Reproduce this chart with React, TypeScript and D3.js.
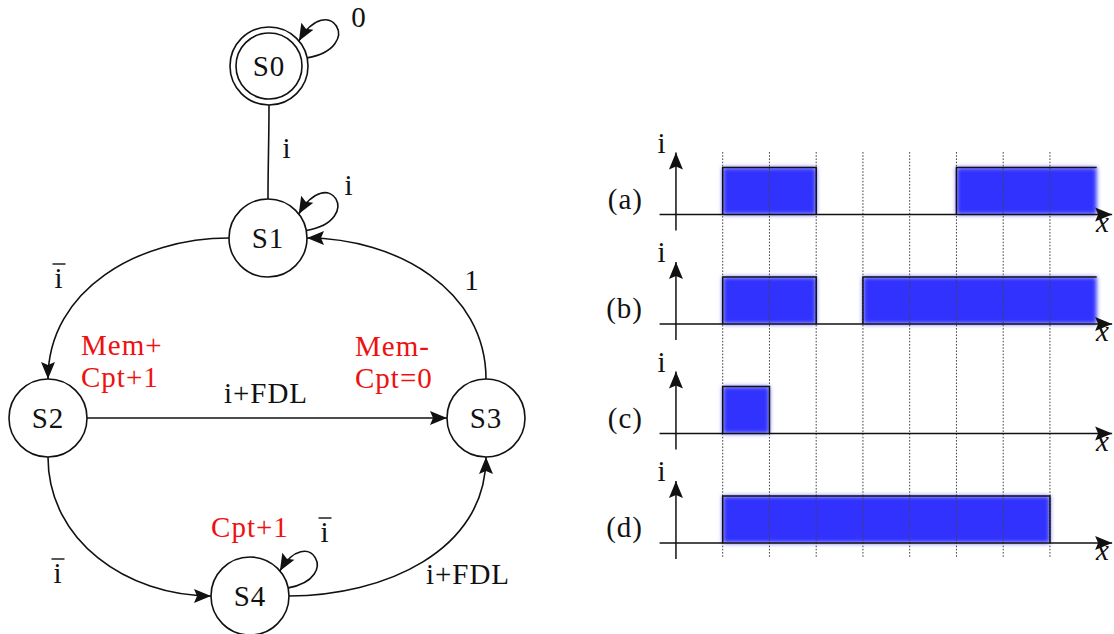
import React from "react";
import * as d3 from "d3";

// ---- state machine data ----
const stateNames = ["S0", "S1", "S2", "S3", "S4"];
const acceptingStates = ["S0"];

// transitions: from, to, condition text, whether the condition is negated (overline)
const transFrom = ["S0", "S1", "S3", "S2", "S2", "S4"];
const transTo = ["S1", "S2", "S1", "S3", "S4", "S3"];
const transLabel = ["i", "i", "1", "i+FDL", "i", "i+FDL"];
const transNegated = [false, true, false, false, true, false];

// self loops
const loopState = ["S0", "S1", "S4"];
const loopLabel = ["0", "i", "i"];
const loopNegated = [false, false, true];

// actions (red)
const actionState = ["S2", "S3", "S4"];
const actionLines = [["Mem+", "Cpt+1"], ["Mem-", "Cpt=0"], ["Cpt+1"]];

// ---- timing diagram data ----
const signalNames = ["(a)", "(b)", "(c)", "(d)"];
const highStart = [[0, 5], [0, 3], [0], [0]];
const highEnd = [[2, 8], [2, 8], [1], [7]];
const openEnd = [[false, true], [false, true], [false], [false]];
const gridTicks = [0, 1, 2, 3, 4, 5, 6, 7];

// ---- layout ----
const R = 39;
const nodePos: Record<string, [number, number]> = {
  S0: [269, 66],
  S1: [268, 238],
  S2: [48, 418],
  S3: [486, 418],
  S4: [250, 596],
};
// out angle on source, in angle on target, arrow?, label position
const transGeom = [
  { out: 270, inn: 90, arrow: false, lx: 287, ly: 158 },
  { out: 180, inn: 90, arrow: true, lx: 59, ly: 288 },
  { out: 90, inn: 0, arrow: true, lx: 472, ly: 290 },
  { out: 0, inn: 180, arrow: true, lx: 266, ly: 403 },
  { out: 270, inn: 180, arrow: true, lx: 58, ly: 583 },
  { out: 0, inn: 270, arrow: true, lx: 468, ly: 584 },
];
const loopGeom = [
  { a0: 12, a1: 40, d0: 10, d1: 60, L: 60, lx: 359, ly: 27 },
  { a0: 11, a1: 38, d0: 10, d1: 60, L: 60, lx: 349, ly: 195 },
  { a0: 12, a1: 40, d0: 10, d1: 60, L: 56, lx: 325, ly: 542 },
];
const actionGeom = [
  { x: 81, y: 355, anchor: "start" },
  { x: 355, y: 356, anchor: "start" },
  { x: 250, y: 537, anchor: "middle" },
];

const FONT = "'Liberation Serif', 'Times New Roman', serif";
const FS = 29;
const BLUE = "#3333ff";
const txt = { fontFamily: FONT, fontSize: FS, letterSpacing: 1 };

const rad = (a: number) => (a * Math.PI) / 180;
const onCircle = (p: [number, number], r: number, a: number): [number, number] => [
  p[0] + r * Math.cos(rad(a)),
  p[1] - r * Math.sin(rad(a)),
];

function edgePath(from: string, to: string, out: number, inn: number) {
  const p0 = onCircle(nodePos[from], R, out);
  const p1 = onCircle(nodePos[to], R, inn);
  const k = 0.3915 * Math.hypot(p1[0] - p0[0], p1[1] - p0[1]);
  const p = d3.path();
  p.moveTo(p0[0], p0[1]);
  p.bezierCurveTo(
    p0[0] + k * Math.cos(rad(out)),
    p0[1] - k * Math.sin(rad(out)),
    p1[0] + k * Math.cos(rad(inn)),
    p1[1] - k * Math.sin(rad(inn)),
    p1[0],
    p1[1]
  );
  return p.toString();
}

function loopPath(s: string, g: (typeof loopGeom)[number]) {
  const c = nodePos[s];
  const p0 = onCircle(c, R, g.a0);
  const p1 = onCircle(c, R, g.a1);
  const p = d3.path();
  p.moveTo(p0[0], p0[1]);
  p.bezierCurveTo(
    p0[0] + g.L * Math.cos(rad(g.d0)),
    p0[1] - g.L * Math.sin(rad(g.d0)),
    p1[0] + g.L * Math.cos(rad(g.d1)),
    p1[1] - g.L * Math.sin(rad(g.d1)),
    p1[0],
    p1[1]
  );
  return p.toString();
}

// text with optional overline bar (negated condition)
const Cond = ({ x, y, text, neg }: any) => (
  <g>
    <text x={x} y={y} style={txt} textAnchor="middle" fill="#111">
      {text}
    </text>
    {neg && <line x1={x - 6.5} x2={x + 6.5} y1={y - 24} y2={y - 24} stroke="#111" strokeWidth={1.4} />}
  </g>
);

const StateDiagram = () => (
  <g>
    {transFrom.map((f, i) => (
      <path
        key={"t" + i}
        d={edgePath(f, transTo[i], transGeom[i].out, transGeom[i].inn)}
        fill="none"
        stroke="#111"
        strokeWidth={1.6}
        markerEnd={transGeom[i].arrow ? "url(#arrow)" : undefined}
      />
    ))}
    {loopState.map((s, i) => (
      <path key={"l" + i} d={loopPath(s, loopGeom[i])} fill="none" stroke="#111" strokeWidth={1.6} markerEnd="url(#arrow)" />
    ))}
    {stateNames.map((s) => (
      <g key={s}>
        <circle cx={nodePos[s][0]} cy={nodePos[s][1]} r={R} fill="white" stroke="#111" strokeWidth={1.6} />
        {acceptingStates.includes(s) && (
          <circle cx={nodePos[s][0]} cy={nodePos[s][1]} r={R - 6} fill="none" stroke="#111" strokeWidth={1.6} />
        )}
        <text x={nodePos[s][0]} y={nodePos[s][1] + 10} style={txt} textAnchor="middle" fill="#111">
          {s}
        </text>
      </g>
    ))}
    {transLabel.map((t, i) => (
      <Cond key={"tl" + i} x={transGeom[i].lx} y={transGeom[i].ly} text={t} neg={transNegated[i]} />
    ))}
    {loopLabel.map((t, i) => (
      <Cond key={"ll" + i} x={loopGeom[i].lx} y={loopGeom[i].ly} text={t} neg={loopNegated[i]} />
    ))}
    {actionState.map((s, i) =>
      actionLines[i].map((line, j) => (
        <text
          key={s + j}
          x={actionGeom[i].x}
          y={actionGeom[i].y + j * 32}
          style={txt}
          textAnchor={actionGeom[i].anchor as any}
          fill="#ee1111"
        >
          {line}
        </text>
      ))
    )}
  </g>
);

const TimingDiagrams = () => {
  const x = d3.scaleLinear().domain([0, 8]).range([722.7, 1096.7]);
  const yBase = d3.scalePoint<string>().domain(signalNames).range([214.5, 543]);
  const h = d3.scaleLinear().domain([0, 1]).range([0, 47]);
  const axisX = x(-1);
  return (
    <g>
      {signalNames.map((name, si) => {
        const y0 = yBase(name)!;
        return (
          <g key={name}>
            {highStart[si].map((s, k) => (
              <rect
                key={"f" + k}
                x={x(s)}
                y={y0 - h(1)}
                width={x(highEnd[si][k]) - x(s)}
                height={h(1)}
                fill={BLUE}
                filter="url(#glow)"
              />
            ))}
          </g>
        );
      })}
      {gridTicks.map((t) => (
        <line
          key={"g" + t}
          x1={x(t)}
          x2={x(t)}
          y1={152}
          y2={557}
          stroke="#444"
          strokeWidth={1}
          strokeDasharray="1.6,1.6"
        />
      ))}
      {signalNames.map((name, si) => {
        const y0 = yBase(name)!;
        return (
          <g key={"ax" + name}>
            {highStart[si].map((s, k) => {
              const e = highEnd[si][k];
              const p = d3.path();
              p.moveTo(x(s), y0);
              p.lineTo(x(s), y0 - h(1));
              p.lineTo(x(e), y0 - h(1));
              if (!openEnd[si][k]) p.lineTo(x(e), y0);
              return <path key={"p" + k} d={p.toString()} fill="none" stroke="#111" strokeWidth={1.5} />;
            })}
            <line x1={x(-1.35)} x2={x(8.33)} y1={y0} y2={y0} stroke="#111" strokeWidth={1.5} markerEnd="url(#arrow)" />
            <line x1={axisX} x2={axisX} y1={y0 + 16} y2={y0 - 62} stroke="#111" strokeWidth={1.5} markerEnd="url(#arrow)" />
            <text x={643} y={y0 - 6} style={txt} textAnchor="end" fill="#111">
              {name}
            </text>
            <text x={662} y={y0 - 62} style={txt} textAnchor="middle" fill="#111">
              i
            </text>
            <text x={1103} y={y0 + 17} style={{ ...txt, fontStyle: "italic" }} textAnchor="middle" fill="#111">
              x
            </text>
          </g>
        );
      })}
    </g>
  );
};

export default function App() {
  return (
    <svg
      width={1114}
      height={634}
      style={{ position: "absolute", left: 0, top: 0, background: "white" }}
    >
      <defs>
        <marker
          id="arrow"
          viewBox="-19 -9 20 18"
          refX={0}
          refY={0}
          markerWidth={20}
          markerHeight={18}
          markerUnits="userSpaceOnUse"
          orient="auto"
        >
          <path d="M0,0 L-17,-7 L-14,0 L-17,7 Z" fill="#111" />
        </marker>
        <filter id="glow" x="-20%" y="-30%" width="140%" height="160%">
          <feGaussianBlur stdDeviation={2.2} />
        </filter>
      </defs>
      <StateDiagram />
      <TimingDiagrams />
    </svg>
  );
}
